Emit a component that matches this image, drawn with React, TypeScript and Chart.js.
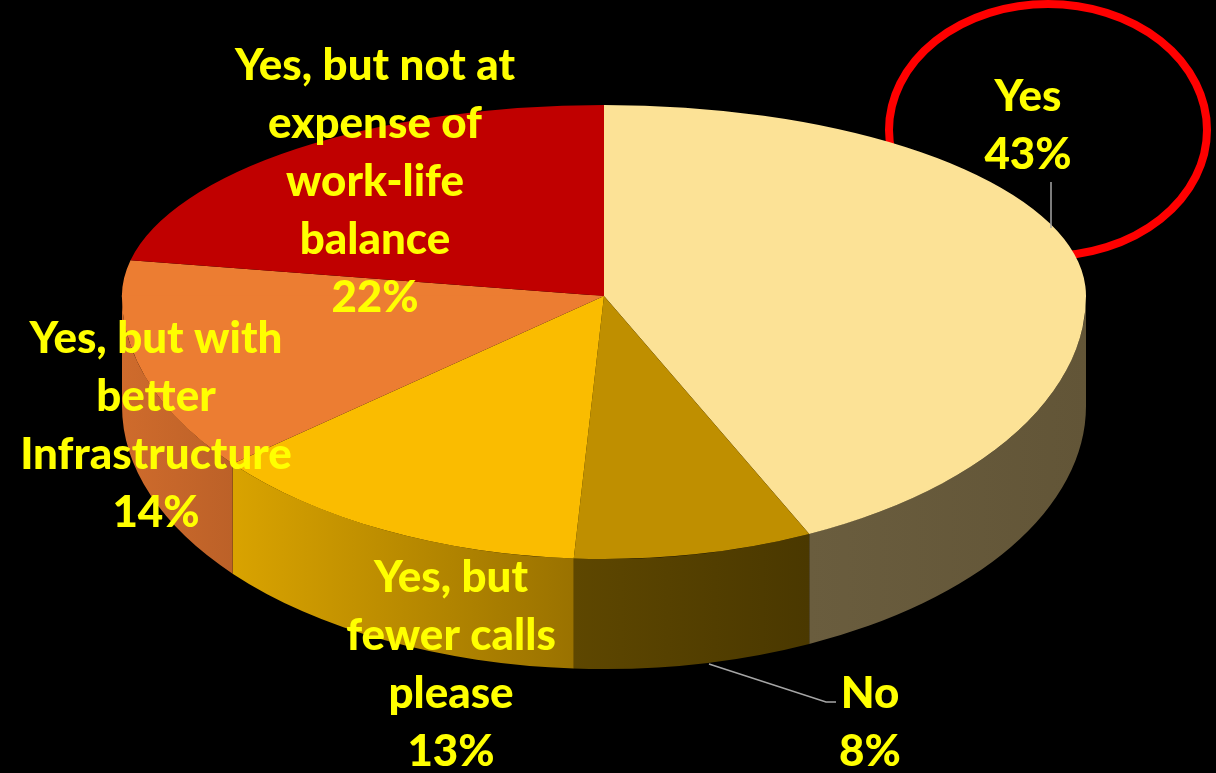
import React, { useEffect, useRef } from "react";
import { Chart, registerables } from "chart.js";

Chart.register(...registerables);

// ---- data ----
const categories = [
  "Yes",
  "No",
  "Yes, but fewer calls please",
  "Yes, but with better Infrastructure",
  "Yes, but not at expense of work-life balance",
];
const shares = [43, 8, 13, 14, 22];
const labelLines = [
  ["Yes"],
  ["No"],
  ["Yes, but", "fewer calls", "please"],
  ["Yes, but with", "better", "Infrastructure"],
  ["Yes, but not at", "expense of", "work-life", "balance"],
];

// ---- styles ----
const topColors = ["#FCE296", "#BF8F00", "#FABC00", "#EC7D32", "#C00000"];
const sideLeft = ["#6A5D3E", "#5E4700", "#D9A300", "#CF6B2C", "#7A0000"];
const sideRight = ["#625537", "#4A3800", "#9A7200", "#BC6128", "#600000"];
// perspective-like view: back half squashed more than front half
const VIEW = { cx: 604, cy: 296, rx: 482, ryBack: 191, ryFront: 263, depth: 110 };
// label block anchors: center x, first baseline y
const labelAnchor = [
  { x: 1028, y: 111 },
  { x: 870, y: 708 },
  { x: 451, y: 592 },
  { x: 156, y: 353 },
  { x: 375, y: 80 },
];
const LINE_H = 58;
const FONT_FAMILY = "Lato";
const FONT_WEIGHT = "900";
const REF_WORD = "Infrastructure";
const REF_WIDTH = 272;

function applyView(ctx: CanvasRenderingContext2D, chart: any, front: boolean) {
  const arcs = chart.getDatasetMeta(0).data as any[];
  const a0 = arcs[0].getProps(["x", "y", "outerRadius"], true);
  const r = a0.outerRadius;
  const sx = VIEW.rx / r;
  const sy = (front ? VIEW.ryFront : VIEW.ryBack) / r;
  ctx.beginPath();
  if (front) ctx.rect(0, VIEW.cy - 0.5, chart.width, chart.height);
  else ctx.rect(0, 0, chart.width, VIEW.cy + 0.5);
  ctx.clip();
  ctx.translate(VIEW.cx, VIEW.cy);
  ctx.scale(sx, sy);
  ctx.translate(-a0.x, -a0.y);
  return sy;
}

const pie3d = {
  id: "pie3d",
  beforeDraw(chart: any) {
    const ctx = chart.ctx;
    ctx.save();
    ctx.fillStyle = "#000";
    ctx.fillRect(0, 0, chart.width, chart.height);
    ctx.restore();
  },
  beforeDatasetsDraw(chart: any) {
    const ctx: CanvasRenderingContext2D = chart.ctx;
    // red highlight ellipse (behind pie)
    ctx.save();
    ctx.beginPath();
    ctx.ellipse(1048, 130, 159, 126, 0, 0, Math.PI * 2);
    ctx.strokeStyle = "#FF0000";
    ctx.lineWidth = 8;
    ctx.stroke();
    ctx.restore();

    // side walls (front half)
    const arcs = chart.getDatasetMeta(0).data as any[];
    ctx.save();
    const sy = applyView(ctx, chart, true);
    const dS = VIEW.depth / sy;
    arcs.forEach((arc: any, i: number) => {
      const p = arc.getProps(["x", "y", "startAngle", "endAngle", "outerRadius"], true);
      const a = Math.max(p.startAngle, 0);
      const b = Math.min(p.endAngle, Math.PI);
      if (b <= a) return;
      const g = ctx.createLinearGradient(
        p.x + p.outerRadius * Math.cos(b),
        0,
        p.x + p.outerRadius * Math.cos(a),
        0
      );
      g.addColorStop(0, sideLeft[i]);
      g.addColorStop(1, sideRight[i]);
      ctx.beginPath();
      ctx.arc(p.x, p.y, p.outerRadius, a, b, false);
      ctx.arc(p.x, p.y + dS, p.outerRadius, b, a, true);
      ctx.closePath();
      ctx.fillStyle = g;
      ctx.fill();
    });
    ctx.restore();

    // back half of top face drawn by Chart.js with this transform
    ctx.save();
    applyView(ctx, chart, false);
  },
  afterDatasetsDraw(chart: any) {
    const ctx: CanvasRenderingContext2D = chart.ctx;
    ctx.restore();

    // front half of top face
    ctx.save();
    applyView(ctx, chart, true);
    chart.getDatasetMeta(0).controller.draw();
    ctx.restore();

    // leader lines
    ctx.save();
    ctx.strokeStyle = "#A6A6A6";
    ctx.lineWidth = 1.5;
    ctx.beginPath();
    ctx.moveTo(1051, 182);
    ctx.lineTo(1051, 228);
    ctx.stroke();
    ctx.beginPath();
    ctx.moveTo(709, 664);
    ctx.lineTo(826, 702);
    ctx.lineTo(836, 702);
    ctx.stroke();
    ctx.restore();

    // labels
    ctx.save();
    ctx.font = `${FONT_WEIGHT} 100px ${FONT_FAMILY}`;
    const size = (100 * REF_WIDTH) / ctx.measureText(REF_WORD).width;
    ctx.font = `${FONT_WEIGHT} ${size.toFixed(1)}px ${FONT_FAMILY}`;
    ctx.fillStyle = "#FFFF00";
    ctx.textAlign = "center";
    ctx.textBaseline = "alphabetic";
    const values = chart.data.datasets[0].data as number[];
    labelLines.forEach((lines, i) => {
      const all = [...lines, `${values[i]}%`];
      const anc = labelAnchor[i];
      all.forEach((t, k) => ctx.fillText(t, anc.x, anc.y + k * LINE_H));
    });
    ctx.restore();
  },
};

export default function App() {
  const ref = useRef<HTMLCanvasElement>(null);
  useEffect(() => {
    document.body.style.margin = "0";
    document.body.style.background = "#000";
    const canvas = ref.current!;
    const chart = new Chart(canvas, {
      type: "pie",
      data: {
        labels: categories,
        datasets: [
          {
            data: shares,
            backgroundColor: topColors,
            borderWidth: 0,
            clip: false,
          } as any,
        ],
      },
      options: {
        animation: false,
        responsive: false,
        events: [],
        layout: { padding: 0 },
        plugins: { legend: { display: false }, tooltip: { enabled: false } },
      },
      plugins: [pie3d],
    });
    return () => chart.destroy();
  }, []);
  return (
    <canvas
      ref={ref}
      width={1216}
      height={773}
      style={{ display: "block", width: 1216, height: 773 }}
    />
  );
}
